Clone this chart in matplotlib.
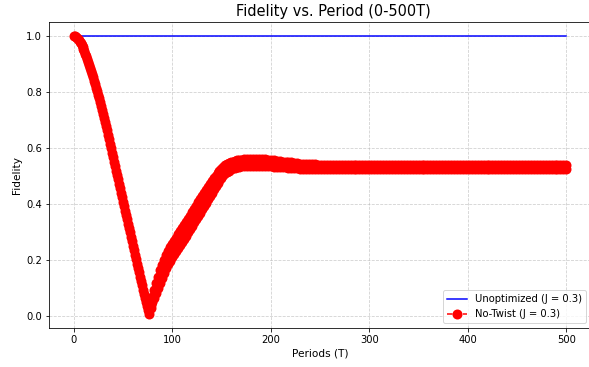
import matplotlib
matplotlib.use('Agg')
import matplotlib.pyplot as plt

# Unoptimized reference: constant fidelity
unopt_periods = [0, 500]
unopt_fidelity = [1.0, 1.0]

# No-Twist: falling branch, one value per period (0-76)
fall_periods = list(range(0, 77))
fall_fidelity = [
    1.000, 0.999, 0.997, 0.994, 0.990, 0.985, 0.980, 0.974, 0.968, 0.962,
    0.955, 0.946, 0.937, 0.927, 0.918, 0.908, 0.897, 0.886, 0.875, 0.864,
    0.852, 0.840, 0.828, 0.815, 0.803, 0.790, 0.777, 0.763, 0.749, 0.736,
    0.722, 0.707, 0.692, 0.678, 0.663, 0.648, 0.632, 0.616, 0.600, 0.584,
    0.568, 0.552, 0.536, 0.520, 0.504, 0.488, 0.472, 0.456, 0.440, 0.424,
    0.408, 0.392, 0.377, 0.361, 0.346, 0.330, 0.314, 0.299, 0.283, 0.268,
    0.252, 0.236, 0.220, 0.204, 0.188, 0.172, 0.157, 0.141, 0.126, 0.110,
    0.095, 0.080, 0.066, 0.051, 0.037, 0.022, 0.008,
]

# No-Twist after the minimum: the points alternate, read as upper / lower envelope
rise_periods = list(range(78, 171, 2)) + list(range(173, 501, 3))
rise_upper = [
    0.041, 0.070, 0.095, 0.118, 0.142, 0.164, 0.184, 0.202, 0.219, 0.233,
    0.246, 0.259, 0.270, 0.281, 0.292, 0.303, 0.314, 0.325, 0.336, 0.348,
    0.359, 0.371, 0.383, 0.394, 0.406, 0.417, 0.429, 0.440, 0.451, 0.462,
    0.473, 0.483, 0.493, 0.502, 0.511, 0.519, 0.527, 0.533, 0.538, 0.542,
    0.546, 0.549, 0.552, 0.554, 0.556, 0.558, 0.559,
    # 173 - 260
    0.560, 0.560, 0.561, 0.561, 0.561, 0.561, 0.561, 0.560, 0.559, 0.557,
    0.556, 0.555, 0.554, 0.552, 0.551, 0.550, 0.549, 0.547, 0.546, 0.545,
    0.545, 0.543, 0.543, 0.542, 0.542, 0.540, 0.540, 0.539, 0.539, 0.539,
    # 263 - 500
    0.538, 0.538, 0.538, 0.538, 0.538, 0.538, 0.538, 0.538, 0.538, 0.538,
    0.538, 0.538, 0.538, 0.538, 0.538, 0.538, 0.538, 0.538, 0.538, 0.538,
    0.538, 0.538, 0.538, 0.538, 0.538, 0.538, 0.538, 0.538, 0.538, 0.538,
    0.538, 0.538, 0.538, 0.538, 0.538, 0.538, 0.538, 0.538, 0.538, 0.538,
    0.538, 0.538, 0.538, 0.538, 0.538, 0.538, 0.538, 0.538, 0.538, 0.538,
    0.538, 0.538, 0.538, 0.538, 0.538, 0.538, 0.538, 0.538, 0.538, 0.538,
    0.538, 0.538, 0.538, 0.538, 0.538, 0.538, 0.538, 0.538, 0.538, 0.538,
    0.538, 0.538, 0.538, 0.538, 0.538, 0.538, 0.538, 0.538, 0.538, 0.538,
]
rise_lower = [
    0.029, 0.050, 0.067, 0.084, 0.102, 0.120, 0.136, 0.154, 0.171, 0.185,
    0.198, 0.211, 0.222, 0.233, 0.244, 0.255, 0.266, 0.277, 0.288, 0.300,
    0.311, 0.323, 0.335, 0.346, 0.358, 0.369, 0.381, 0.394, 0.405, 0.418,
    0.429, 0.441, 0.453, 0.464, 0.475, 0.485, 0.495, 0.503, 0.510, 0.516,
    0.520, 0.525, 0.528, 0.530, 0.532, 0.534, 0.535,
    # 173 - 260
    0.536, 0.536, 0.537, 0.537, 0.537, 0.537, 0.537, 0.536, 0.535, 0.535,
    0.534, 0.533, 0.532, 0.532, 0.531, 0.530, 0.529, 0.529, 0.528, 0.527,
    0.527, 0.527, 0.527, 0.526, 0.526, 0.526, 0.526, 0.525, 0.525, 0.525,
    # 263 - 500
    0.525, 0.525, 0.525, 0.525, 0.525, 0.525, 0.525, 0.525, 0.525, 0.525,
    0.525, 0.525, 0.525, 0.525, 0.525, 0.525, 0.525, 0.525, 0.525, 0.525,
    0.525, 0.525, 0.525, 0.525, 0.525, 0.525, 0.525, 0.525, 0.525, 0.525,
    0.525, 0.525, 0.525, 0.525, 0.525, 0.525, 0.525, 0.525, 0.525, 0.525,
    0.525, 0.525, 0.525, 0.525, 0.525, 0.525, 0.525, 0.525, 0.525, 0.525,
    0.525, 0.525, 0.525, 0.525, 0.525, 0.525, 0.525, 0.525, 0.525, 0.525,
    0.525, 0.525, 0.525, 0.525, 0.525, 0.525, 0.525, 0.525, 0.525, 0.525,
    0.525, 0.525, 0.525, 0.525, 0.525, 0.525, 0.525, 0.525, 0.525, 0.525,
]

fig = plt.figure(figsize=(589 / 72, 367 / 72), dpi=72)
# the right spine sits just past the image edge in the original crop
ax = fig.add_axes([49 / 589, 39 / 367, (591 - 49) / 589, (328 - 22) / 367])

ax.plot(unopt_periods, unopt_fidelity, color='blue', linewidth=1.5,
        label='Unoptimized (J = 0.3)')
ax.plot(fall_periods + rise_periods, fall_fidelity + rise_upper, 'o--',
        color='red', markersize=10, markeredgewidth=0, linewidth=1.5,
        label='No-Twist (J = 0.3)')
ax.plot(rise_periods, rise_lower, 'o--', color='red', markersize=10,
        markeredgewidth=0, linewidth=1.5)

ax.set_title('Fidelity vs. Period (0-500T)', fontsize=14.5, x=0.525)
ax.set_xlabel('Periods (T)', fontsize=10.5)
ax.set_ylabel('Fidelity', fontsize=10.5)
ax.grid(True, linestyle='--', alpha=0.6)
ax.legend(loc='lower right', fontsize=10)

fig.savefig('out.png', dpi=72)
